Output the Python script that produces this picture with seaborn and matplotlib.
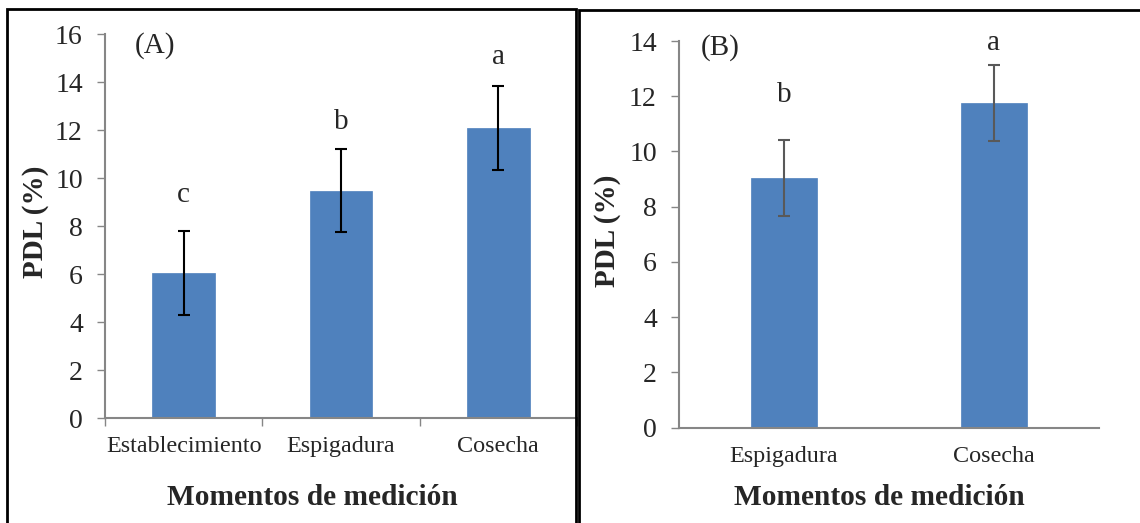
import matplotlib
matplotlib.use("Agg")
import matplotlib.pyplot as plt
from matplotlib.patches import Rectangle
import seaborn as sns
import pandas as pd

# Panel A data
cats_a = ["Establecimiento", "Espigadura", "Cosecha"]
pdl_a = [6.03, 9.46, 12.1]
err_a = [1.75, 1.73, 1.75]
letters_a = ["c", "b", "a"]

# Panel B data
cats_b = ["Espigadura", "Cosecha"]
pdl_b = [9.03, 11.75]
err_b = [1.38, 1.37]
letters_b = ["b", "a"]

sns.set_style("white")
plt.rcParams["font.family"] = ["Liberation Serif", "DejaVu Serif"]

W, H = 1140, 523
fig = plt.figure(figsize=(W / 100, H / 100), dpi=100)

BAR = "#4F81BD"
SPINE = "#868686"


def px_axes(left, right, top, bottom):
    return fig.add_axes([left / W, (H - bottom) / H, (right - left) / W, (bottom - top) / H])


def panel(ax, cats, vals, errs, letters, gaps, ymax, step, width, ecolor, tag, tag_xy,
          xlabel_xy, ylabel_x, xticks_on):
    df = pd.DataFrame({"momento": cats, "pdl": vals})
    sns.barplot(data=df, x="momento", y="pdl", ax=ax, color=BAR, width=width,
                saturation=1, edgecolor=BAR, linewidth=0.5, errorbar=None)
    ax.errorbar(range(len(cats)), vals, yerr=errs, fmt="none", ecolor=ecolor,
                elinewidth=1.5, capsize=4.5, capthick=1.5, zorder=3)
    for i, (v, e, l, g) in enumerate(zip(vals, errs, letters, gaps)):
        ax.text(i, v + e + g, l, ha="center", va="center", fontsize=21)
    ax.set_xlim(-0.5, len(cats) - 0.5)
    ax.set_ylim(0, ymax)
    ax.set_yticks(range(0, ymax + 1, step))
    ax.tick_params(axis="y", labelsize=20, length=6, width=1, color=SPINE, pad=10,
                   direction="out", left=True)
    ax.tick_params(axis="x", labelsize=17.4, pad=13, length=0)
    if xticks_on:
        ax.set_xticks([i - 0.5 for i in range(len(cats) + 1)], minor=True)
        ax.tick_params(axis="x", which="minor", length=6, width=1, color=SPINE,
                       direction="out", bottom=True)
    for s in ["top", "right"]:
        ax.spines[s].set_visible(False)
    for s in ["left", "bottom"]:
        ax.spines[s].set_color(SPINE)
        ax.spines[s].set_linewidth(1.5)
    ax.set_xlabel("Momentos de medición", fontsize=21.2, fontweight="bold")
    ax.xaxis.set_label_coords(*xlabel_xy)
    ax.xaxis.label.set_va("center")
    ax.set_ylabel("PDL (%)", fontsize=21, fontweight="bold")
    ax.yaxis.set_label_coords(ylabel_x, 0.51)
    ax.yaxis.label.set_va("center")
    ax.text(*tag_xy, tag, transform=ax.transAxes, fontsize=21, ha="center", va="center")


ax_a = px_axes(105, 577, 34, 418)
panel(ax_a, cats_a, pdl_a, err_a, letters_a, [1.5, 1.15, 1.2], 16, 2, 0.4, "black",
      "(A)", (0.106, 0.971), (0.44, -0.208), -0.147, True)

ax_b = px_axes(679, 1099, 41, 427.5)
panel(ax_b, cats_b, pdl_b, err_b, letters_b, [1.65, 0.8], 14, 2, 0.314, "#595959",
      "(B)", (0.098, 0.984), (0.476, -0.182), -0.171, False)

# panel frames
fig.add_artist(Rectangle((7 / W, -0.05), (576 - 7) / W, (H - 9) / H + 0.05,
                         transform=fig.transFigure, fill=False, edgecolor="black",
                         linewidth=2))
fig.add_artist(Rectangle((579 / W, -0.05), (1145 - 579) / W, (H - 10) / H + 0.05,
                         transform=fig.transFigure, fill=False, edgecolor="black",
                         linewidth=2))

fig.savefig("out.png", dpi=100)
